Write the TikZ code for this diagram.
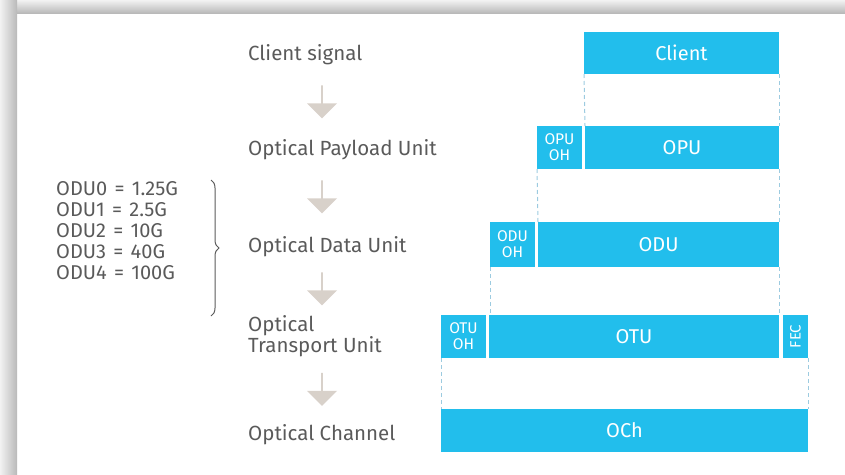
\documentclass[tikz,border=0pt]{standalone}
\usepackage{fontspec}
\setmainfont{Fira Sans}
\usetikzlibrary{positioning,shapes.arrows,decorations.pathreplacing}
\definecolor{otnblue}{HTML}{22BEEC}
\definecolor{labelgray}{HTML}{5A5A5A}
\definecolor{arrowgray}{HTML}{D8D1CA}
\definecolor{dashblue}{HTML}{9CCBE0}

\begin{document}
\begin{tikzpicture}[x=1pt, y=-1pt,
  layer/.style={fill=otnblue, text=white, inner sep=0pt, outer sep=0pt, anchor=north west, font=\fontsize{20}{20}\selectfont},
  ohbox/.style={layer, font=\fontsize{15.5}{16}\selectfont, align=center},
  stage/.style={anchor=west, text=labelgray, inner sep=0pt, font=\fontsize{20.5}{21}\selectfont, align=left},
  downarrow/.style={single arrow, fill=arrowgray, draw=none, shape border rotate=270, minimum height=33pt, minimum width=30pt, single arrow head extend=3pt, inner sep=0pt},
  guide/.style={dashblue, dash pattern=on 4pt off 3pt, line width=1pt}]
\useasboundingbox (0,0) rectangle (845,474);
\shade [top color=gray!10, bottom color=gray!55] (0,0) rectangle (845,13);
\shade [left color=gray!10, right color=gray!55] (0,0) rectangle (17,474);

% stages
\node [stage] (sclient) at (248,55) {Client signal};
\node [stage] (sopu) at (248,150) {Optical Payload Unit};
\node [stage] (sodu) at (248,247) {Optical Data Unit};
\node [stage] (sotu) at (248,336) {Optical\\Transport Unit};
\node [stage] (soch) at (248,435) {Optical Channel};
\node [downarrow] (a1) at (322,101.5) {};
\node [downarrow] (a2) at (322,196.5) {};
\node [downarrow] (a3) at (322,288.5) {};
\node [downarrow] (a4) at (322,389) {};

% ODU rates
\newcommand{\rateeq}{\hspace{2pt} = \hspace{2pt}}
\node [anchor=west, text=labelgray, inner sep=0pt, align=left, font=\fontsize{20}{21}\selectfont] (rates) at (56,231)
  {ODU0\rateeq1.25G\\ODU1\rateeq2.5G\\ODU2\rateeq10G\\ODU3\rateeq40G\\ODU4\rateeq100G};
\draw [decorate, decoration={brace, amplitude=8pt}, labelgray, line width=1pt] (211,180) -- (211,316);

% frame layers
\node [layer, minimum width=195pt, minimum height=42pt] (client) at (584,32) {Client};
\node [ohbox, minimum width=45pt, minimum height=43pt] (opuoh) at (537,126) {OPU\\OH};
\node [layer, minimum width=194pt, minimum height=43pt] (opu) at (585,126) {OPU};
\node [ohbox, minimum width=45pt, minimum height=45pt] (oduoh) at (490,222) {ODU\\OH};
\node [layer, minimum width=241pt, minimum height=45pt] (odu) at (538,222) {ODU};
\node [ohbox, minimum width=45pt, minimum height=43pt] (otuoh) at (441,315) {OTU\\OH};
\node [layer, minimum width=290pt, minimum height=43pt] (otu) at (489,315) {OTU};
\node [ohbox, minimum width=25pt, minimum height=43pt] (fec) at (783,315) {\rotatebox{90}{\fontsize{15}{15}\selectfont FEC}};
\node [layer, minimum width=367pt, minimum height=43pt] (och) at (441,409) {OCh};

\draw [guide] (client.south west) -- (opu.north west);
\draw [guide] (client.south east) -- (opu.north east);
\draw [guide] (opuoh.south west) -- (odu.north west);
\draw [guide] (opu.south east) -- (odu.north east);
\draw [guide] (oduoh.south west) -- (oduoh.south west |- otu.north);
\draw [guide] (odu.south east) -- (otu.north east);
\draw [guide] (otuoh.south west) -- (och.north west);
\draw [guide] (fec.south east) -- (och.north east);
\end{tikzpicture}
\end{document}
